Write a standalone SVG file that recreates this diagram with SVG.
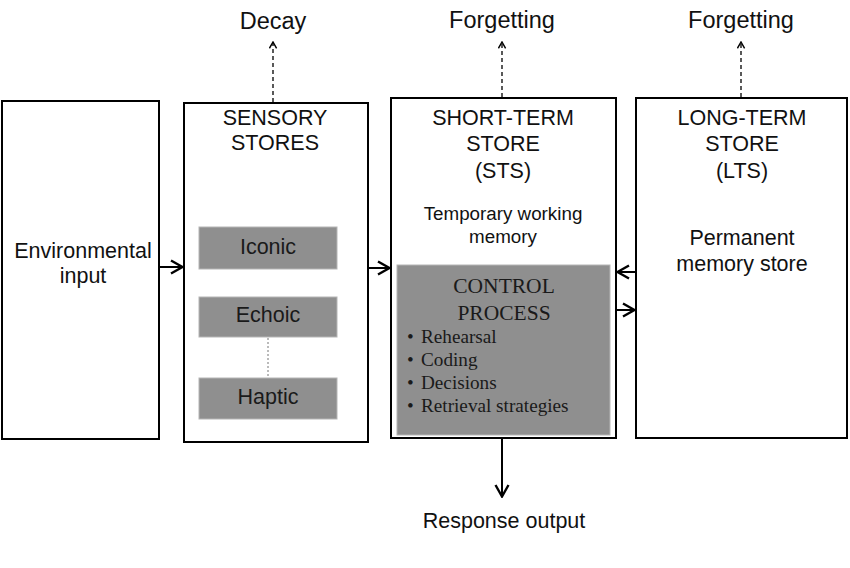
<svg xmlns="http://www.w3.org/2000/svg" width="850" height="568" viewBox="0 0 850 568">
<defs>
<style>
.box{fill:#fff;stroke:#000;stroke-width:2}
.gray{fill:#8f8f8f;stroke:#b5b5b5;stroke-width:1}
.t{font-family:"Liberation Sans",Arial,sans-serif;font-size:21.5px;fill:#111;text-anchor:middle}
.top{font-family:"Liberation Sans",Arial,sans-serif;font-size:23.5px;fill:#111;text-anchor:middle}
.s{font-family:"Liberation Sans",Arial,sans-serif;font-size:18.8px;fill:#111;text-anchor:middle}
.g{font-family:"Liberation Sans",Arial,sans-serif;font-size:21.5px;fill:#1a1a1a;text-anchor:middle}
.tm{font-family:"Liberation Serif","Times New Roman",serif;fill:#1a1a1a}
.solid{stroke:#000;stroke-width:2;fill:none}
.dash{stroke:#000;stroke-width:1.3;fill:none;stroke-dasharray:4 3}
</style>
<marker id="ah" viewBox="0 0 16 16" refX="15" refY="8" markerWidth="16" markerHeight="16" markerUnits="userSpaceOnUse" orient="auto">
<path d="M3,1.5 L14.5,8 L3,14.5" fill="none" stroke="#000" stroke-width="2.4"/>
</marker>
<marker id="ahs" viewBox="0 0 10 10" refX="9" refY="5" markerWidth="9" markerHeight="9" markerUnits="userSpaceOnUse" orient="auto">
<path d="M2,1 L9,5 L2,9" fill="none" stroke="#000" stroke-width="1.6"/>
</marker>
</defs>

<g id="env">
<rect class="box" x="2" y="101" width="157" height="338"/>
<text class="t" x="83" y="258">Environmental</text>
<text class="t" x="83" y="283">input</text>
</g>

<g id="sensory">
<rect class="box" x="184" y="103" width="184" height="339"/>
<text class="t" x="275" y="125">SENSORY</text>
<text class="t" x="275" y="150">STORES</text>
</g>
<g id="iconic">
<rect class="gray" x="199" y="227" width="138" height="42"/>
<text class="g" x="268" y="254">Iconic</text>
</g>
<g id="echoic">
<rect class="gray" x="199" y="297" width="138" height="40"/>
<text class="g" x="268" y="322">Echoic</text>
</g>
<g id="haptic">
<rect class="gray" x="199" y="378" width="138" height="41"/>
<text class="g" x="268" y="404">Haptic</text>
</g>

<g id="sts">
<rect class="box" x="391" y="98" width="225" height="340"/>
<text class="t" x="503" y="125">SHORT-TERM</text>
<text class="t" x="503" y="151">STORE</text>
<text class="t" x="503" y="178">(STS)</text>
<text class="s" x="503" y="220">Temporary working</text>
<text class="s" x="503" y="243">memory</text>
</g>
<g id="control">
<rect class="gray" x="397" y="265" width="213" height="170"/>
<text class="tm" x="504" y="293" font-size="21.5" text-anchor="middle">CONTROL</text>
<text class="tm" x="504" y="320" font-size="21.5" text-anchor="middle">PROCESS</text>
<text class="tm" font-size="19.2">
<tspan x="407" y="343">•</tspan><tspan x="421" y="343">Rehearsal</tspan>
<tspan x="407" y="366">•</tspan><tspan x="421" y="366">Coding</tspan>
<tspan x="407" y="389">•</tspan><tspan x="421" y="389">Decisions</tspan>
<tspan x="407" y="412">•</tspan><tspan x="421" y="412">Retrieval strategies</tspan>
</text>
</g>

<g id="lts">
<rect class="box" x="636" y="98" width="211" height="340"/>
<text class="t" x="742" y="125">LONG-TERM</text>
<text class="t" x="742" y="151">STORE</text>
<text class="t" x="742" y="178">(LTS)</text>
<text class="t" x="742" y="245">Permanent</text>
<text class="t" x="742" y="271">memory store</text>
</g>

<g id="labels">
<text class="top" x="273" y="29">Decay</text>
<text class="top" x="502" y="28">Forgetting</text>
<text class="top" x="741" y="28">Forgetting</text>
<text class="t" x="504" y="528">Response output</text>
</g>

<g id="connectors">
<line class="solid" x1="160" y1="267" x2="183" y2="267" marker-end="url(#ah)"/>
<line class="solid" x1="369" y1="268" x2="390" y2="268" marker-end="url(#ah)"/>
<line class="solid" x1="635" y1="272" x2="617" y2="272" marker-end="url(#ah)"/>
<line class="solid" x1="617" y1="310" x2="635" y2="310" marker-end="url(#ah)"/>
<line class="solid" x1="502" y1="439" x2="502" y2="497" marker-end="url(#ah)"/>
<line class="dash" x1="273" y1="102" x2="273" y2="42" marker-end="url(#ahs)"/>
<line class="dash" x1="502" y1="97" x2="502" y2="42" marker-end="url(#ahs)"/>
<line class="dash" x1="741" y1="97" x2="741" y2="42" marker-end="url(#ahs)"/>
<line x1="268" y1="338" x2="268" y2="377" stroke="#777" stroke-width="1" stroke-dasharray="2 2"/>
</g>
</svg>
